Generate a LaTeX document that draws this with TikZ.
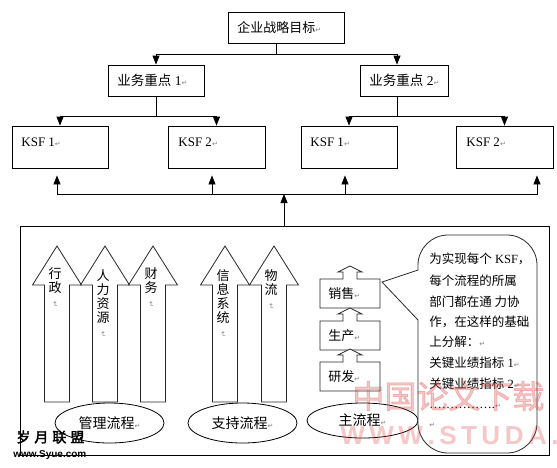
\documentclass[tikz,border=0pt]{standalone}
\usepackage{fontspec}
\usepackage{graphicx}
\setmainfont{Liberation Serif}
\newfontfamily\cjk{Noto Sans CJK SC}
\newfontfamily\cjkbold[FakeBold=2.5]{Noto Sans CJK SC}
\newfontfamily\symfont{DejaVu Sans}
\newfontfamily\wmfont{Liberation Sans}
\usetikzlibrary{arrows.meta,shapes.geometric,calc}
\definecolor{wmred}{RGB}{225,70,70}
\definecolor{linegray}{RGB}{40,40,40}
\newcommand\zh[1]{{\cjk #1}}
\newcommand\ret{{\symfont\fontsize{7}{7}\selectfont\textcolor{gray}{↵}}}
\newcommand\vret{\rotatebox[origin=c]{-90}{\ret}}
\newcommand\fatarrow[1]{%
  \draw[fat] (#1-12.5,402) -- (#1-12.5,285) -- (#1-24.5,285) -- (#1,246) -- (#1+24.5,285) -- (#1+12.5,285) -- (#1+12.5,402) -- cycle;}
\newcommand\smallup[1]{%
  \draw[fat] (320,#1+13) -- (343,#1+13) -- (343,#1+6) -- (338,#1+6) -- (350,#1) -- (362,#1+6) -- (357,#1+6) -- (357,#1+13) -- (380,#1+13) -- (380,#1+42) -- (320,#1+42) -- cycle;}
\newcommand\lsp{\hspace{4.5pt}}
\begin{document}
\begin{tikzpicture}[x=1pt,y=-1pt,line width=0.8pt,
  font=\fontsize{12.5}{14}\selectfont,
  box/.style={draw, fill=white, inner sep=0pt},
  arr/.style={-{Triangle[width=7pt,length=9pt]}},
  txt/.style={anchor=west, inner sep=0pt},
  fat/.style={draw=linegray, fill=white, line width=0.8pt},
  vtxt/.style={anchor=north, align=center, inner sep=0pt, font=\cjk\fontsize{13}{14}\selectfont},
  ell/.style={ellipse, draw, fill=white, inner sep=0pt, font=\cjk\fontsize{14}{14}\selectfont},
  ctxt/.style={anchor=west, inner sep=0pt, font=\fontsize{12.5}{14}\selectfont},
  wm/.style={anchor=west, inner sep=0pt, text=wmred, text opacity=0.3}]
\useasboundingbox (0,0) rectangle (557,467);
\fill[white] (0,0) rectangle (557,467);
\clip (0,0) rectangle (557,467);

% top level
\node[box, minimum width=116pt, minimum height=31pt] (goal) at (286,27.5) {};
\node[txt, font=\fontsize{13}{14}\selectfont] (goalt) at (237,27.5) {\zh{企业战略目标}\ret};

% level 2
\node[box, minimum width=96pt, minimum height=31pt] (b1) at (156,80.5) {};
\node[txt, font=\fontsize{13.5}{14}\selectfont] (b1t) at (117,80.5) {\zh{业务重点} 1\ret};
\node[box, minimum width=88pt, minimum height=31pt] (b2) at (404,80.5) {};
\node[txt, font=\fontsize{13.5}{14}\selectfont] (b2t) at (369,80.5) {\zh{业务重点} 2\ret};

% KSF level
\node[box, minimum width=96pt, minimum height=42pt] (k1) at (60,147) {};
\node[box, minimum width=97pt, minimum height=42pt] (k2) at (216.5,147) {};
\node[box, minimum width=96pt, minimum height=42pt] (k3) at (349,147) {};
\node[box, minimum width=97pt, minimum height=42pt] (k4) at (504.5,147) {};
\node[txt, font=\fontsize{13}{14}\selectfont] (k1t) at (21,142) {KSF 1\ret};
\node[txt, font=\fontsize{13}{14}\selectfont] (k2t) at (178,142) {KSF 2\ret};
\node[txt, font=\fontsize{13}{14}\selectfont] (k3t) at (310,142) {KSF 1\ret};
\node[txt, font=\fontsize{13}{14}\selectfont] (k4t) at (466,142) {KSF 2\ret};

% connectors top -> level 2
\coordinate (j0) at (276,54);
\draw (goal.south -| j0) -- (j0);
\draw[arr] (j0) -| (b1.north);
\draw[arr] (j0) -| ([xshift=-7pt]b2.north);
% level 2 -> KSF
\coordinate (j1) at (156,116);
\draw (b1.south) -- (j1);
\draw[arr] (j1) -| (k1.north);
\draw[arr] (j1) -| (k2.north);
\coordinate (j2) at (397,116);
\draw ([xshift=-7pt]b2.south) -- (j2);
\draw[arr] (j2) -| (k3.north);
\draw[arr] (j2) -| (k4.north);

% big box and bus
\node[box, minimum width=529pt, minimum height=229pt] (big) at (284.5,340.5) {};
\coordinate (bus) at (284,194);
\draw[arr] (big.north -| bus) -- (bus);
\draw[arr] (bus) -| ([xshift=-3pt,yshift=-7pt]k1.south);
\draw[arr] (bus) -| ([xshift=-4.5pt,yshift=-7pt]k2.south);
\draw[arr] (bus) -| ([xshift=-4pt,yshift=-7pt]k3.south);
\draw[arr] (bus) -| ([xshift=32.5pt,yshift=-7pt]k4.south);

% fat arrows
\fatarrow{57}
\fatarrow{105}
\fatarrow{153}
\fatarrow{225}
\fatarrow{274}
\node[vtxt] (v1) at (55,267) {行\\政\\\vret};
\node[vtxt] (v2) at (103,269) {人\\力\\资\\源\\\vret};
\node[vtxt] (v3) at (151,267) {财\\务\\\vret};
\node[vtxt] (v4) at (223,269) {信\\息\\系\\统\\\vret};
\node[vtxt] (v5) at (271,269) {物\\流\\\vret};

% main process small arrows
\smallup{266}
\smallup{308}
\smallup{349}
\node[txt, font=\fontsize{13}{14}\selectfont] (s1) at (328,293.5) {\zh{销售}\ret};
\node[txt, font=\fontsize{13}{14}\selectfont] (s2) at (328,335.5) {\zh{生产}\ret};
\node[txt, font=\fontsize{13}{14}\selectfont] (s3) at (328,376.5) {\zh{研发}\ret};

% ellipses
\node[ell, minimum width=109pt, minimum height=40pt] (e1) at (109.5,423) {管理流程\ret};
\node[ell, minimum width=109pt, minimum height=40pt] (e2) at (242.5,423) {支持流程\ret};
\node[ell, minimum width=111pt, minimum height=35pt] (e3) at (362.5,420.5) {主流程\ret};

% callout
\draw[fat] (382,282) -- (418,320) -- (418,423)
  .. controls (418,439.5) and (431.5,453) .. (448,453) -- (507,453)
  .. controls (523.5,453) and (537,439.5) .. (537,423) -- (537,265)
  .. controls (537,248.5) and (523.5,235) .. (507,235) -- (448,235)
  .. controls (431.5,235) and (418,248.5) .. (418,265) -- (418,270) -- cycle;
\node[ctxt] (c1) at (429,259) {\zh{为实现每个} KSF\zh{，}};
\node[ctxt] (c2) at (429,281) {\zh{每个流程的所属}};
\node[ctxt] (c3) at (429,302) {\zh{部门都在通 力协}};
\node[ctxt] (c4) at (429,322) {\zh{作，在这样的基础}};
\node[ctxt] (c5) at (429,342) {\zh{上分解：}\ret};
\node[ctxt] (c6) at (429,363) {\zh{关键业绩指标} 1\ret};
\node[ctxt] (c7) at (429,384) {\zh{关键业绩指标} 2\ret};
\node[ctxt] (c8) at (429,406) {…………….\ret};
\node[ctxt] (c9) at (429,425) {\ret};

% watermarks
\node[wm, font=\wmfont\bfseries\fontsize{26}{26}\selectfont] (wm4) at (340,436) {W\lsp W\lsp W\lsp .\lsp S\lsp T\lsp U\lsp D\lsp A\lsp .};
\node[wm, font=\cjkbold\fontsize{32}{32}\selectfont] (wm3) at (352,396) {中国论文下载};
\node[anchor=west, inner sep=0pt, font=\cjkbold\fontsize{14}{14}\selectfont] (wm1) at (16,437) {岁\hspace{4pt}月\hspace{4pt}联\hspace{4pt}盟};
\node[anchor=west, inner sep=0pt, font=\wmfont\bfseries\fontsize{10}{10}\selectfont] (wm2) at (13,455) {www.Syue.com};
\end{tikzpicture}
\end{document}
